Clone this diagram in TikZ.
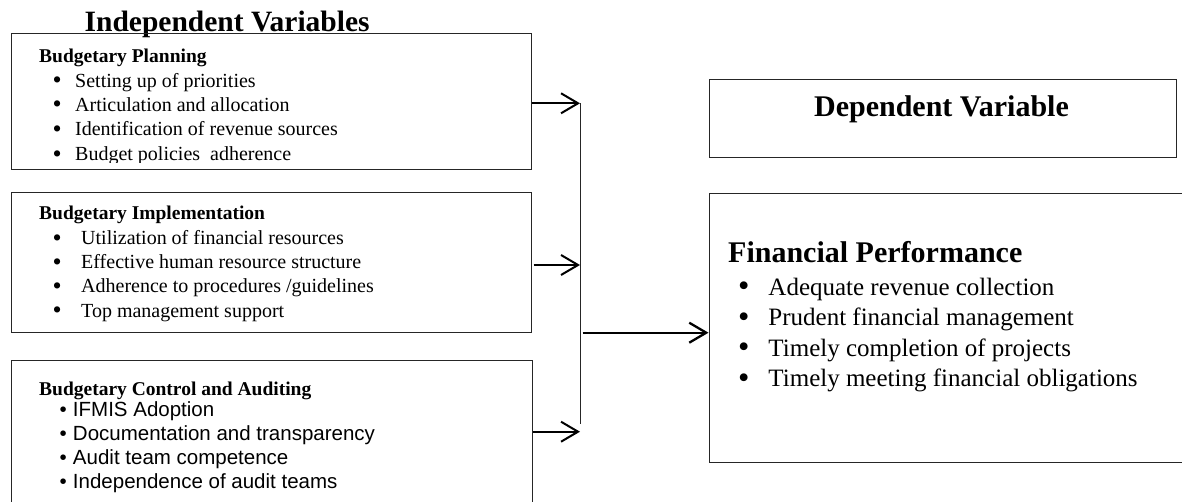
\documentclass[tikz,border=0pt]{standalone}
\usepackage{fontspec}
\setmainfont{Liberation Serif}
\newfontfamily\arialfont{Liberation Sans}
\usepackage{graphicx}
\usepackage{tikz}
\usetikzlibrary{arrows.meta}
\tikzset{varbox/.style={draw=black!85, line width=0.9pt, anchor=north west, inner sep=0pt},
    arr/.style={-{Straight Barb[length=17pt,width=20pt]}, line width=2pt},
    itm/.style={anchor=base west, inner sep=0pt, font=\fontsize{20}{24}\selectfont},
    arialitm/.style={anchor=base west, inner sep=0pt, font=\arialfont\fontsize{20.5}{24}\selectfont},
    subhead/.style={anchor=base west, inner sep=0pt, font=\bfseries\fontsize{19.5}{24}\selectfont},
    bighead/.style={inner sep=0pt, font=\bfseries\fontsize{29.5}{34}\selectfont},
    fpitm/.style={anchor=base west, inner sep=0pt, font=\fontsize{25}{30}\selectfont}}
\newcommand{\bul}[1][22.5pt]{\makebox[#1][l]{\raisebox{-0.07em}{\scalebox{1.3}{\textbullet}}}}
\newcommand{\abul}[1][13.3pt]{\makebox[#1][l]{\textbullet}}

\begin{document}
\begin{tikzpicture}[x=1pt,y=-1pt]
                \useasboundingbox (0,0) rectangle (1182,502);
                \clip (0,0) rectangle (1182,502);

                 \node[bighead, anchor=base west] (indep) at (84.5,31.7) {Independent Variables};

                 \node[varbox, minimum width=519.7, minimum height=136.3] (plan) at (11,33) {};
                 \node[subhead] (planhd) at (39,63) {Budgetary Planning};
                 \node[itm] (plan1) at (52.5,87.3) {\bul Setting up of priorities};
                 \node[itm] (plan2) at (52.5,111.5) {\bul Articulation and allocation};
                 \node[itm] (plan3) at (52.5,136) {\bul Identification of revenue sources};
                 \begin{scope}
                 \clip (11,140) rectangle (530,163);
                 \node[itm] (plan4) at (52.5,160.7) {\bul Budget policies\ \ adherence};
                 \end{scope}

                 \node[varbox, minimum width=519.7, minimum height=140] (impl) at (11,192.3) {};
                 \node[subhead] (implhd) at (39,220) {Budgetary Implementation};
                 \node[itm] (impl1) at (52.5,245) {\bul[23.5pt] Utilization of financial resources};
                 \node[itm] (impl2) at (52.5,269) {\bul[23.5pt] Effective human resource structure};
                 \node[itm] (impl3) at (52.5,293) {\bul[23.5pt] Adherence to procedures /guidelines};
                 \node[itm] (impl4) at (52.5,317) {\bul[23.5pt] Top management support};

                 \node[varbox, minimum width=520.7, minimum height=150] (ctrl) at (11,360) {};
                 \node[subhead] (ctrlhd) at (39,395) {Budgetary Control and Auditing};
                 \node[arialitm] (ctrl1) at (59.5,416) {\abul IFMIS Adoption};
                 \node[arialitm] (ctrl2) at (59.5,440) {\abul Documentation and transparency};
                 \node[arialitm] (ctrl3) at (59.5,464) {\abul Audit team competence};
                 \node[arialitm] (ctrl4) at (59.5,488) {\abul Independence of audit teams};

                 \node[varbox, minimum width=467, minimum height=77.7] (dep) at (708.5,79.3) {};
                 \node[bighead, anchor=base, font=\bfseries\fontsize{30}{34}\selectfont] (dephd) at (941.5,117) {Dependent Variable};

                 \node[varbox, minimum width=500, minimum height=269.5] (perf) at (708.5,192.8) {};
                 \node[bighead, anchor=base west, font=\bfseries\fontsize{30}{34}\selectfont] (perfhd) at (728,263) {Financial Performance};
                 \node[fpitm] (perf1) at (738,295) {\bul[24pt] Adequate revenue collection};
                 \node[fpitm] (perf2) at (738,325.5) {\bul[24pt] Prudent financial management};
                 \node[fpitm] (perf3) at (738,356) {\bul[24pt] Timely completion of projects};
                 \node[fpitm] (perf4) at (738,386.7) {\bul[24pt] Timely meeting financial obligations};

                 \coordinate (j1) at (580,103.3);
                 \coordinate (j2) at (580,265);
                 \coordinate (j3) at (580,431.7);
                 \coordinate (jtop) at (580.7,103.3);
                 \coordinate (jbot) at (580.7,424);
                 \coordinate (jout) at (582.7,332.7);

                 \draw[arr] (plan.east |- j1) -- (j1);
                 \draw[arr] ([xshift=2pt]impl.east |- j2) -- (j2);
                 \draw[arr] (ctrl.east |- j3) -- (j3);
                 \draw[line width=1.2pt, black!85] (jtop) -- (jbot);
                 \draw[arr, line width=2.3pt] (jout) -- (perf.west |- jout);

\end{tikzpicture}
\end{document}
